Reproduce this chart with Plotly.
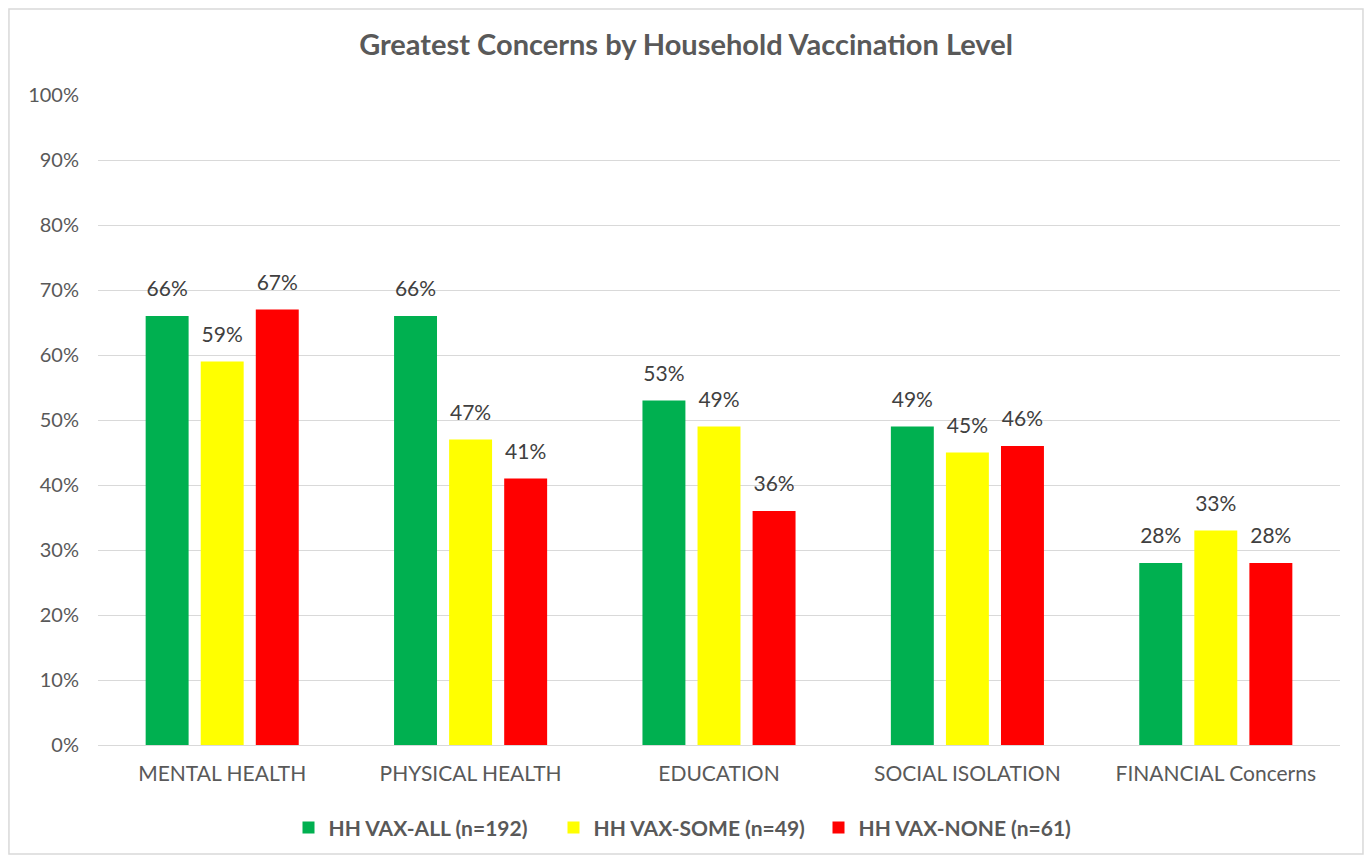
import plotly.graph_objects as go

categories = ['MENTAL HEALTH', 'PHYSICAL HEALTH', 'EDUCATION', 'SOCIAL ISOLATION', 'FINANCIAL Concerns']
vax_all = [0.66, 0.66, 0.53, 0.49, 0.28]
vax_some = [0.59, 0.47, 0.49, 0.45, 0.33]
vax_none = [0.67, 0.41, 0.36, 0.46, 0.28]

series = [
    ('HH VAX-ALL (n=192)', vax_all, '#00B050'),
    ('HH VAX-SOME (n=49)', vax_some, '#FFFF00'),
    ('HH VAX-NONE (n=61)', vax_none, '#FF0000'),
]

font_family = 'Lato, Open Sans, sans-serif'

fig = go.Figure()
for name, vals, color in series:
    fig.add_trace(go.Bar(
        x=categories, y=vals, name=name,
        marker=dict(color=color, line=dict(width=0)),
    ))

# value labels as grouped text scatter so they sit a bit higher above the bars
for name, vals, color in series:
    fig.add_trace(go.Scatter(
        x=categories, y=vals, mode='markers+text', showlegend=False,
        marker=dict(size=22, opacity=0),
        text=[f'{v:.0%}' for v in vals], textposition='top center',
        textfont=dict(size=21, color='#404040', family=font_family),
        cliponaxis=False, hoverinfo='skip',
    ))

# page body has an 8px margin, so the figure is a bit smaller than the window
fig.update_layout(
    width=1356, height=847,
    paper_bgcolor='white', plot_bgcolor='white',
    margin=dict(l=90, r=24, t=87, b=110),
    barmode='group', bargap=0.335, bargroupgap=0.22,
    scattermode='group', scattergap=0.335,
    title=dict(text='<b>Greatest Concerns by Household Vaccination Level</b>',
               x=0.5, xref='container', xanchor='center', y=0.956, yanchor='middle',
               font=dict(size=29, color='#595959', family=font_family)),
    font=dict(family=font_family, color='#595959'),
    legend=dict(orientation='h', xref='container', x=0.5, xanchor='center',
                yref='container', y=0.032, yanchor='middle',
                font=dict(size=21, color='#595959', family=font_family, weight='bold'),
                traceorder='normal', itemwidth=30, entrywidth=220),
)

fig.update_yaxes(range=[0, 1], dtick=0.1, tickformat='.0%',
                 gridcolor='#D9D9D9', gridwidth=1, zeroline=False,
                 showline=False, ticks='', ticklen=0, ticklabelstandoff=18,
                 tickfont=dict(size=20, color='#595959'))
fig.update_xaxes(showline=True, linecolor='#D9D9D9', linewidth=1,
                 ticks='', ticklabelstandoff=10,
                 tickfont=dict(size=21, color='#595959'))

# chart border
fig.add_shape(type='rect', xref='paper', yref='paper',
              x0=-0.0717, x1=1.0185, y0=-0.1677, y1=1.1323,
              line=dict(color='#D9D9D9', width=1.5), fillcolor='rgba(0,0,0,0)')

fig.write_html('out.html')
